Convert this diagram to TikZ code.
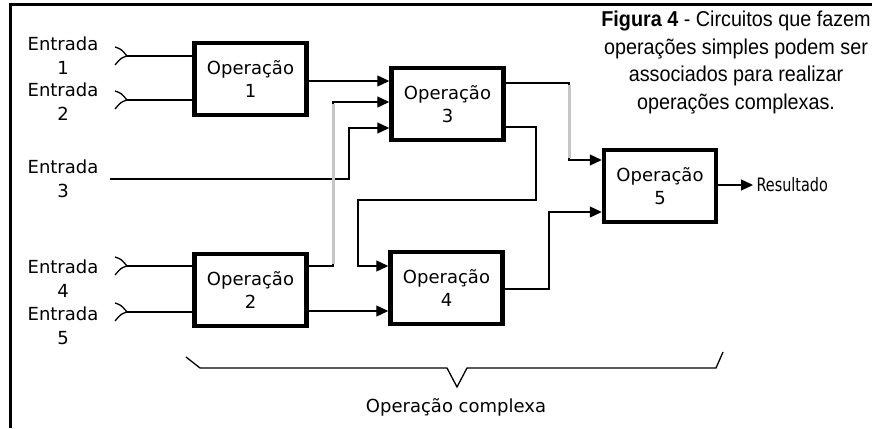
\documentclass[tikz,border=0pt]{standalone}
\usepackage{fontspec}
\setmainfont{DejaVu Sans}
\newfontfamily\capfont[FakeStretch=0.92]{Liberation Sans}
\usetikzlibrary{positioning,arrows.meta}

\tikzset{
    opbox/.style={draw, line width=4.5pt, minimum width=112pt, minimum height=72pt,
        inner sep=0pt, align=center, font=\fontsize{18}{23}\selectfont},
    entrada/.style={align=center, font=\fontsize{18}{24}\selectfont},
    wire/.style={line width=1.3pt},
    feed/.style={wire, -{Triangle[length=12pt,width=11pt]}},
    faded/.style={gray!45, line width=3pt},
    chevron/.style={line width=1.3pt, line join=round},
}

\begin{document}
\begin{tikzpicture}[x=1pt, y=-1pt]
    \useasboundingbox (0,0) rectangle (872,428);
    %% moldura
    \draw[line width=3pt] (10,428) -- (10,5) -- (872,5);

    %% entradas
    \node[entrada] (e1) at (63,56) {Entrada\\1};
    \node[entrada] (e2) at (63,102) {Entrada\\2};
    \node[entrada] (e3) at (63,179) {Entrada\\3};
    \node[entrada] (e4) at (63,279) {Entrada\\4};
    \node[entrada] (e5) at (63,326) {Entrada\\5};
    \coordinate (c1) at (127,56);
    \coordinate (c2) at (127,100);
    \coordinate (c3) at (110,179);
    \coordinate (c4) at (127,266);
    \coordinate (c5) at (127,312);
    \foreach \c in {c1,c2,c4,c5}
        \draw[chevron] (\c) ++(-12,-9) .. controls ++(6,2) .. (\c) .. controls ++(-6,2) .. ++(-12,9);

    %% operacoes
    \node[opbox] (op1) at (250.5,79) {Operação\\1};
    \node[opbox] (op2) at (250.5,290) {Operação\\2};
    \node[opbox] (op3) at (447.5,104) {Operação\\3};
    \node[opbox] (op4) at (446.5,288) {Operação\\4};
    \node[opbox] (op5) at (660,186) {Operação\\5};
    \node[anchor=west, font=\fontsize{18.5}{22}\selectfont] (res) at (753,185)
        {\scalebox{0.78}[1]{Resultado}};

    %% ligacoes
    \draw[wire] (c1) -- (op1.west |- c1);
    \draw[wire] (c2) -- (op1.west |- c2);
    \draw[wire] (c4) -- (op2.west |- c4);
    \draw[wire] (c5) -- (op2.west |- c5);
    \draw[feed] (op1.east |- 0,81) -- (op3.west |- 0,81);
    \draw[feed] (c3) -| (349,128) -- (op3.west |- 0,128);
    \draw[feed] (op2.east |- 0,266) -| (333,102) -- (op3.west |- 0,102);
    \draw[faded] (333,264) -- (333,104);
    \draw[feed] (op2.east |- 0,311) -- (op4.west |- 0,311);
    \draw[feed] (op3.east |- 0,127) -| (536,200) -| (358,266) -- (op4.west |- 0,266);
    \draw[feed] (op3.east |- 0,83) -| (569,160) -- (op5.west |- 0,160);
    \draw[faded] (569,85) -- (569,158);
    \draw[feed] (op4.east |- 0,289) -| (549,212) -- (op5.west |- 0,212);
    \draw[feed] (op5.east |- res) -- (res.west);

    %% chave
    \draw[wire] (186,357) -- (200,368) -- (447,368) -- (457,387) -- (467,368)
        -- (716,368) -- (723,352);
    \node[font=\fontsize{18}{22}\selectfont] (cx) at (456,407) {Operação complexa};

    %% legenda
    \node[align=center, font=\capfont\fontsize{21.5}{27.7}\selectfont] (cap) at (736,62.5)
        {\textbf{Figura 4} - Circuitos que fazem\\operações simples podem ser\\
         associados para realizar\\operações complexas.};
\end{tikzpicture}
\end{document}
